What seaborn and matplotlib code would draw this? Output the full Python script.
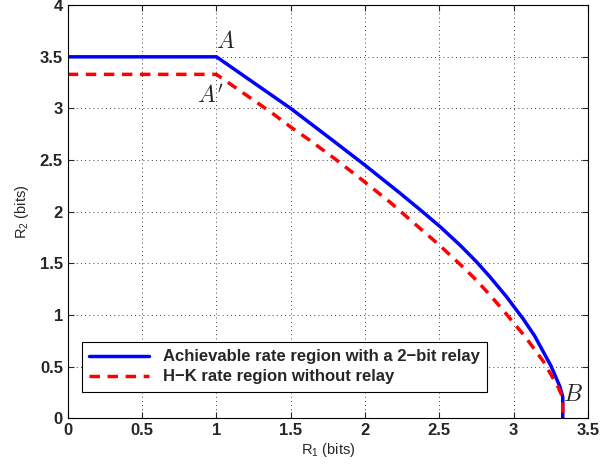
import matplotlib
matplotlib.use('Agg')
import matplotlib.pyplot as plt
import seaborn as sns

# achievable rate region with a 2-bit relay
relay_r1 = [0, 1.0, 1.36, 1.5, 1.765, 2.0, 2.235, 2.37, 2.505, 2.64, 2.75, 2.84,
            2.95, 3.065, 3.14, 3.25, 3.31, 3.33, 3.33]
relay_r2 = [3.5, 3.5, 3.14, 3.0, 2.71, 2.45, 2.18, 2.02, 1.855, 1.675, 1.515, 1.37,
            1.18, 0.96, 0.80, 0.51, 0.31, 0.21, 0]

# H-K rate region without relay
hk_r1 = [0, 1.0, 1.37, 1.5, 1.63, 1.79, 1.97, 2.17, 2.325, 2.505, 2.64, 2.73,
         2.84, 2.95, 3.08, 3.2, 3.3, 3.33, 3.33]
hk_r2 = [3.33, 3.33, 2.96, 2.82, 2.69, 2.52, 2.32, 2.09, 1.895, 1.67, 1.49, 1.365,
         1.195, 1.01, 0.785, 0.55, 0.30, 0.20, 0]

xticks = [0, 0.5, 1, 1.5, 2, 2.5, 3, 3.5]
yticks = [0, 0.5, 1, 1.5, 2, 2.5, 3, 3.5, 4]

sns.set_style('ticks')
plt.rcParams['font.family'] = ['Liberation Sans', 'DejaVu Sans']

fig = plt.figure(figsize=(6, 4.7), dpi=100)
ax = fig.add_axes([0.113, 0.11, 0.867, 0.879])

sns.lineplot(x=relay_r1, y=relay_r2, sort=False, estimator=None, color='#0000ff',
             linewidth=2.5, label='Achievable rate region with a 2\u2212bit relay', ax=ax)
sns.lineplot(x=hk_r1, y=hk_r2, sort=False, estimator=None, color='#ff0000',
             linewidth=2.5, linestyle=(0, (3, 2.2)), label='H\u2212K rate region without relay', ax=ax)

ax.set_xlim(0, 3.5)
ax.set_ylim(0, 4)
ax.set_xticks(xticks)
ax.set_yticks(yticks)
ax.set_xticklabels([f'{t:g}' for t in xticks], fontweight='bold', fontsize=12)
ax.set_yticklabels([f'{t:g}' for t in yticks], fontweight='bold', fontsize=12)
ax.tick_params(direction='in', top=True, right=True, length=4, width=0.8)
ax.grid(True, linestyle=(0, (1, 4)), color='black', linewidth=0.6)
for s in ax.spines.values():
    s.set_linewidth(0.8)
    s.set_color('black')

ax.set_xlabel(r'R$_{\mathregular{1}}$ (bits)', fontsize=10.5, labelpad=2)
ax.set_ylabel(r'R$_{\mathregular{2}}$ (bits)', fontsize=10.5, labelpad=6)

ax.text(1.06, 3.64, '$A$', fontsize=17, ha='center', va='center', math_fontfamily='cm')
ax.text(0.96, 3.12, "$A'$", fontsize=17, ha='center', va='center', math_fontfamily='cm')
ax.text(3.40, 0.23, '$B$', fontsize=17, ha='center', va='center', math_fontfamily='cm')

leg = ax.legend(loc='lower left', bbox_to_anchor=(0.027, 0.064), fancybox=False,
                framealpha=1, edgecolor='black', handlelength=3.6, borderaxespad=0,
                prop={'weight': 'bold', 'size': 12}, borderpad=0.45, labelspacing=0.3)
leg.get_frame().set_linewidth(0.8)

fig.savefig('out.png', dpi=100)
